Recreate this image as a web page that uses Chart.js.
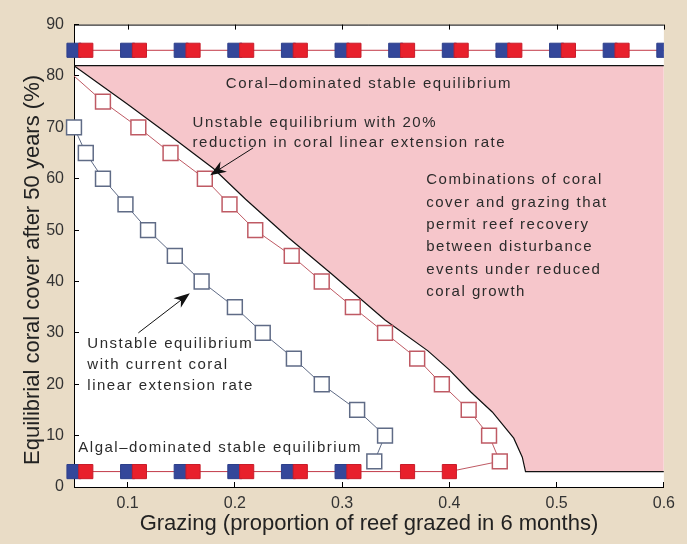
<!DOCTYPE html>
<html>
<head>
<meta charset="utf-8">
<script src="https://cdn.jsdelivr.net/npm/chart.js@4.4.1/dist/chart.umd.min.js"></script>
<style>
  html, body { margin: 0; padding: 0; background: #e9dcc6; }
  #wrap { width: 687px; height: 544px; }
</style>
</head>
<body>
<div id="wrap"><canvas id="reefChart" width="687" height="544"></canvas></div>
<script>
// axis ticks
const grazingTicks = [0.1, 0.2, 0.3, 0.4, 0.5, 0.6];
const coverTicks = [0, 10, 20, 30, 40, 50, 60, 70, 80, 90];

// stable equilibria (filled squares): blue = current growth, red = reduced growth
const coralStateCover = 85;
const algalStateCover = 3;
const coralBlueX = [0.05, 0.10, 0.15, 0.20, 0.25, 0.30, 0.35, 0.40, 0.45, 0.50, 0.55, 0.60];
const coralRedX = [0.061, 0.111, 0.161, 0.211, 0.261, 0.311, 0.361, 0.411, 0.461, 0.511, 0.561];
const algalBlueX = [0.05, 0.10, 0.15, 0.20, 0.25, 0.30];
const algalRedX = [0.061, 0.111, 0.161, 0.211, 0.261, 0.311, 0.361, 0.40];

// unstable equilibrium, 20% reduction in linear extension (open red squares)
const reducedX = [0.05, 0.077, 0.110, 0.140, 0.172, 0.195, 0.219, 0.253, 0.281, 0.310, 0.340, 0.370, 0.393, 0.418, 0.437, 0.447, 0.40];
const reducedCover = [80, 75, 70, 65, 60, 55, 50, 45, 40, 35, 30, 25, 20, 15, 10, 5, 3];

// unstable equilibrium, current linear extension (open blue squares)
const currentX = [0.05, 0.061, 0.077, 0.098, 0.119, 0.144, 0.169, 0.200, 0.226, 0.255, 0.281, 0.314, 0.340, 0.330];
const currentCover = [70, 65, 60, 55, 50, 45, 40, 35, 30, 25, 20, 15, 10, 5];

// edge of the recovery region (pink)
const boundaryX = [0.05, 0.10, 0.14, 0.18, 0.21, 0.25, 0.29, 0.34, 0.38, 0.40, 0.42, 0.44, 0.46, 0.468, 0.471, 0.60];
const boundaryCover = [82, 74.5, 68.3, 62, 56, 48.5, 41.5, 32.5, 26.5, 22.8, 18.5, 14.6, 9.5, 5.8, 3, 3];
const coralLimit = 82;

const FONT = '"Liberation Sans", Arial, sans-serif';
const TEXT = '#2b2b2b';
const Y_TITLE = 'Equilibrial coral cover after 50 years (%)';

const toPoints = (xs, ys) => xs.map((x, i) => ({ x: x, y: Array.isArray(ys) ? ys[i] : ys }));

// text labels and arrows, placed in data units
const notes = [
    { text: 'Coral\u2013dominated stable equilibrium', x: 0.325, y: 78.4, align: 'center' },
    { text: 'Unstable equilibrium with 20%', x: 0.1606, y: 70.8 },
    { text: 'reduction in coral linear extension rate', x: 0.1606, y: 66.9 },
    { text: 'Combinations of coral', x: 0.3784, y: 59.7 },
    { text: 'cover and grazing that', x: 0.3784, y: 55.3 },
    { text: 'permit reef recovery', x: 0.3784, y: 51.0 },
    { text: 'between disturbance', x: 0.3784, y: 46.7 },
    { text: 'events under reduced', x: 0.3784, y: 42.2 },
    { text: 'coral growth', x: 0.3784, y: 37.9 },
    { text: 'Unstable equilibrium', x: 0.0624, y: 27.8 },
    { text: 'with current coral', x: 0.0624, y: 23.7 },
    { text: 'linear extension rate', x: 0.0624, y: 19.6 },
    { text: 'Algal\u2013dominated stable equilibrium', x: 0.054, y: 7.6 }
];
const arrows = [
    { from: [0.217, 66.0], to: [0.177, 60.7] },
    { from: [0.110, 30.0], to: [0.158, 37.7] }
];

function drawArrow(ctx, x1, y1, x2, y2) {
    const a = Math.atan2(y2 - y1, x2 - x1);
    const c = Math.cos(a), s = Math.sin(a);
    const L = 16, W = 6;
    ctx.beginPath();
    ctx.moveTo(x1, y1);
    ctx.lineTo(x2 - 8 * c, y2 - 8 * s);
    ctx.stroke();
    ctx.beginPath();
    ctx.moveTo(x2, y2);
    ctx.lineTo(x2 - L * c + W * s, y2 - L * s - W * c);
    ctx.lineTo(x2 - 0.7 * L * c, y2 - 0.7 * L * s);
    ctx.lineTo(x2 - L * c - W * s, y2 - L * s + W * c);
    ctx.closePath();
    ctx.fill();
}

const plotFrame = {
    id: 'plotFrame',
    beforeDraw(chart) {
        const { ctx, chartArea: a } = chart;
        ctx.save();
        ctx.fillStyle = '#ffffff';
        ctx.fillRect(a.left, a.top, a.right - a.left, a.bottom - a.top);
        ctx.restore();
    },
    afterDraw(chart) {
        const { ctx, chartArea: a } = chart;
        const xs = chart.scales.x;
        ctx.save();
        ctx.strokeStyle = '#000';
        ctx.lineWidth = 1;
        ctx.beginPath();
        ctx.moveTo(a.left, a.top + 0.5);
        ctx.lineTo(a.right, a.top + 0.5);
        grazingTicks.forEach(v => {
            const px = Math.round(xs.getPixelForValue(v)) + 0.5;
            ctx.moveTo(px, a.top);
            ctx.lineTo(px, a.top + 5);
        });
        ctx.stroke();

        // y-axis title, sat a little below the middle of the axis as in the original
        ctx.translate(33, 270);
        ctx.rotate(-Math.PI / 2);
        ctx.fillStyle = '#222';
        ctx.font = '22px ' + FONT;
        ctx.textAlign = 'center';
        ctx.textBaseline = 'middle';
        ctx.fillText(Y_TITLE, 0, 0);
        ctx.restore();
    }
};

const annotations = {
    id: 'annotations',
    afterDatasetsDraw(chart) {
        const { ctx } = chart;
        const xs = chart.scales.x, ys = chart.scales.y;
        ctx.save();
        ctx.fillStyle = TEXT;
        ctx.font = '15px ' + FONT;
        ctx.letterSpacing = '1.5px';
        ctx.textBaseline = 'middle';
        notes.forEach(n => {
            ctx.textAlign = n.align || 'left';
            ctx.fillText(n.text, xs.getPixelForValue(n.x), ys.getPixelForValue(n.y));
        });
        ctx.strokeStyle = '#111';
        ctx.fillStyle = '#111';
        ctx.lineWidth = 1;
        arrows.forEach(ar => {
            drawArrow(ctx,
                xs.getPixelForValue(ar.from[0]), ys.getPixelForValue(ar.from[1]),
                xs.getPixelForValue(ar.to[0]), ys.getPixelForValue(ar.to[1]));
        });
        ctx.restore();
    }
};

const bandClip = { left: 10, right: 0, top: 10, bottom: 10 };

const ctx = document.getElementById('reefChart').getContext('2d');
new Chart(ctx, {
    type: 'line',
    data: {
        datasets: [
            {
                label: 'Reduced growth, stable',
                data: toPoints(coralRedX, coralStateCover).concat(toPoints(algalRedX, algalStateCover)),
                showLine: false,
                pointStyle: 'rect',
                pointRadius: 10,
                pointBackgroundColor: '#e8202c',
                pointBorderColor: '#c81c2a',
                pointBorderWidth: 1,
                clip: bandClip
            },
            {
                label: 'Current growth, stable',
                data: toPoints(coralBlueX, coralStateCover).concat(toPoints(algalBlueX, algalStateCover)),
                showLine: false,
                pointStyle: 'rect',
                pointRadius: 10,
                pointBackgroundColor: '#34479a',
                pointBorderColor: '#2d3f8a',
                pointBorderWidth: 1,
                clip: bandClip
            },
            {
                label: 'Coral band line',
                data: toPoints(coralBlueX, coralStateCover),
                borderColor: '#c23a48',
                borderWidth: 1,
                pointRadius: 0
            },
            {
                label: 'Algal band line',
                data: toPoints([0.05].concat(algalRedX), algalStateCover),
                borderColor: '#c23a48',
                borderWidth: 1,
                pointRadius: 0
            },
            {
                label: 'Unstable, reduced extension',
                data: toPoints(reducedX, reducedCover),
                borderColor: '#bf5a64',
                borderWidth: 1,
                pointStyle: 'rect',
                pointRadius: reducedX.map((_, i) => (i === 0 || i === reducedX.length - 1) ? 0 : 10.5),
                pointBackgroundColor: '#ffffff',
                pointBorderColor: '#bf5a64',
                pointBorderWidth: 1.5,
                clip: bandClip
            },
            {
                label: 'Unstable, current extension',
                data: toPoints(currentX, currentCover),
                borderColor: '#5f6b86',
                borderWidth: 1,
                pointStyle: 'rect',
                pointRadius: 10.5,
                pointBackgroundColor: '#ffffff',
                pointBorderColor: '#5f6b86',
                pointBorderWidth: 1.5,
                clip: bandClip
            },
            {
                label: 'Coral-dominated limit',
                data: toPoints([0.05, 0.6], coralLimit),
                borderColor: '#111',
                borderWidth: 1.2,
                pointRadius: 0
            },
            {
                label: 'Recovery region',
                data: toPoints(boundaryX, boundaryCover),
                borderColor: '#111',
                borderWidth: 1.2,
                pointRadius: 0,
                tension: 0,
                fill: { value: coralLimit },
                backgroundColor: '#f6c6cb'
            }
        ]
    },
    options: {
        responsive: false,
        animation: false,
        layout: { padding: { top: 24, right: 14, left: 0, bottom: 0 } },
        plugins: {
            legend: { display: false },
            tooltip: { enabled: false }
        },
        scales: {
            x: {
                type: 'linear',
                min: 0.05,
                max: 0.6,
                afterBuildTicks: s => { s.ticks = grazingTicks.map(v => ({ value: v })); },
                afterFit: s => { s.height = 57; },
                grid: { drawOnChartArea: false, tickLength: -5, tickColor: '#000' },
                border: { color: '#000', width: 1 },
                ticks: {
                    padding: 12,
                    color: '#333',
                    font: { family: FONT, size: 16 },
                    callback: v => v.toFixed(1)
                },
                title: {
                    display: true,
                    text: 'Grazing (proportion of reef grazed in 6 months)',
                    color: '#222',
                    font: { family: FONT, size: 22 },
                    padding: { top: 0, bottom: 7 }
                }
            },
            y: {
                type: 'linear',
                min: 0,
                max: 90,
                afterBuildTicks: s => { s.ticks = coverTicks.map(v => ({ value: v })); },
                afterFit: s => { s.width = 74; },
                grid: { drawOnChartArea: false, tickLength: -5, tickColor: '#000' },
                border: { color: '#000', width: 1 },
                ticks: {
                    padding: 15,
                    color: '#333',
                    font: { family: FONT, size: 16 }
                }
            }
        }
    },
    plugins: [plotFrame, annotations]
});
</script>
</body>
</html>
